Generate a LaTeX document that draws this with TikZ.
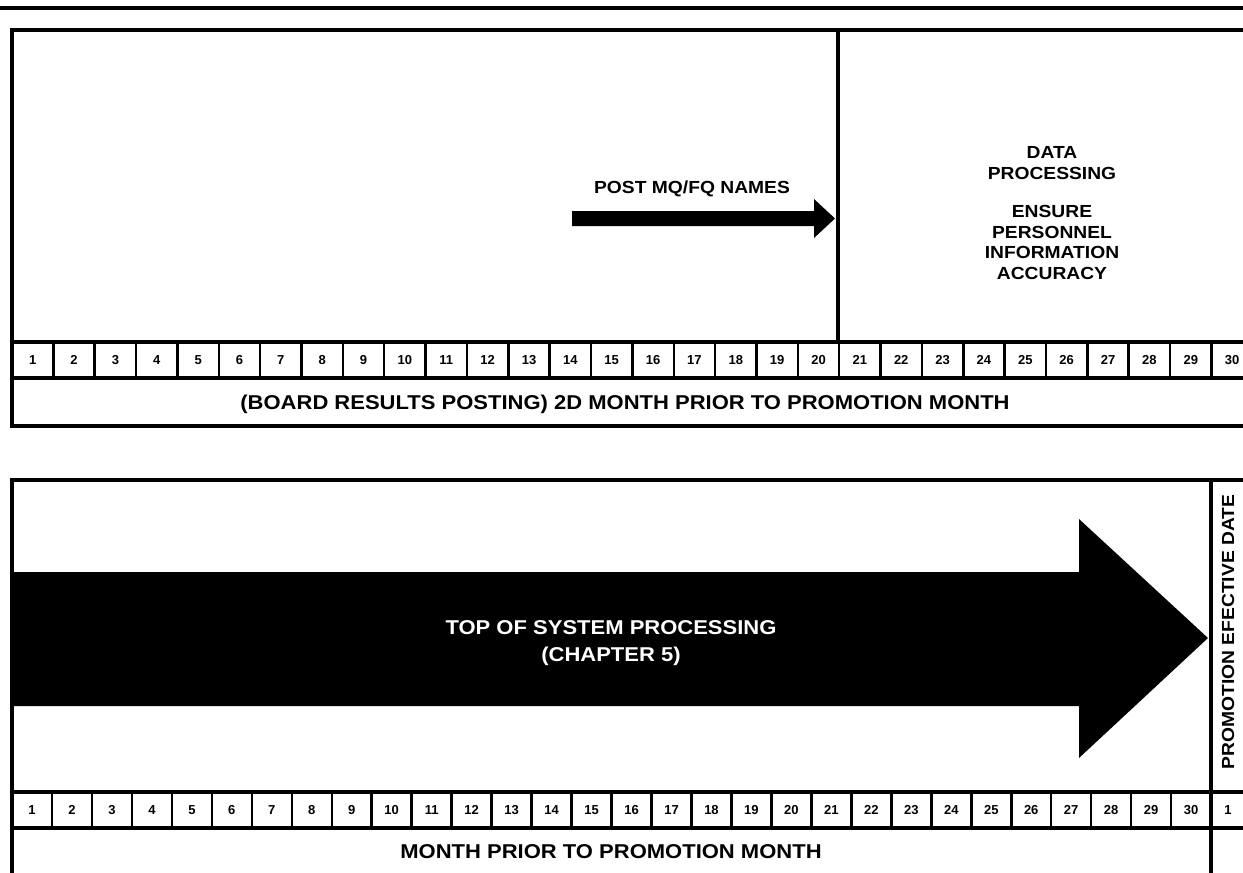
\documentclass[tikz,border=0pt]{standalone}
\usepackage{fontspec}
\setmainfont{Liberation Sans}
\newfontfamily\widefont[FakeStretch=1.1]{Liberation Sans}
\tikzset{
  frame/.style = {line width=4pt},
  cellline/.style = {line width=2.5pt},
  daylabel/.style = {anchor=base, font=\bfseries\fontsize{13}{13}\selectfont},
  boxlabel/.style = {font=\widefont\bfseries\fontsize{17.5}{20.5}\selectfont, align=center},
  rowlabel/.style = {font=\widefont\bfseries\fontsize{20}{24}\selectfont, align=center},
}
\begin{document}
\begin{tikzpicture}[x=1pt,y=-1pt]
    \useasboundingbox (0,0) rectangle (1243,873);
    \clip (0,0) rectangle (1243,873);
    \draw[frame] (0,8) -- (1243,8);
    % board results panel
    \begin{scope}[style = frame]
        \draw (1260,30) -- (12,30) -- (12,426) -- (1260,426);
        \draw (12,342) -- (1260,342);
        \draw (12,378) -- (1260,378);
        \draw (838,30) -- (838,342);
    \end{scope}
    \foreach \d in {1,...,29}
        \draw[cellline] ({12+41.36*\d},342) -- ({12+41.36*\d},378);
    \foreach \d in {1,...,30}
        \node[daylabel] (top\d) at ({12+41.36*(\d-0.5)},364.5) {\d};
    \fill (572,211) -- (814,211) -- (814,199) -- (835,218.5) -- (814,238) -- (814,226) -- (572,226) -- cycle;
    \node[boxlabel] (post) at (692,189) {POST MQ/FQ NAMES};
    \node[boxlabel] (dataproc) at (1052,213) {DATA\\PROCESSING\\[18pt]ENSURE\\PERSONNEL\\INFORMATION\\ACCURACY};
    \node[rowlabel] (board) at (625,404) {(BOARD RESULTS POSTING) 2D MONTH PRIOR TO PROMOTION MONTH};
    % promotion month panel
    \begin{scope}[style = frame]
        \draw (1260,480) -- (12,480) -- (12,880);
        \draw (12,792) -- (1260,792);
        \draw (12,828) -- (1260,828);
        \draw (1211,480) -- (1211,880);
    \end{scope}
    \foreach \d in {1,...,29}
        \draw[cellline] ({12+39.97*\d},792) -- ({12+39.97*\d},828);
    \foreach \d in {1,...,30}
        \node[daylabel] (bot\d) at ({12+39.97*(\d-0.5)},814.5) {\d};
    \node[daylabel] (effday) at (1228,814.5) {1};
    \fill (12,572) -- (1079,572) -- (1079,519) -- (1208,638) -- (1079,758) -- (1079,706) -- (12,706) -- cycle;
    \node[rowlabel, text=white] (tops) at (611,643) {TOP OF SYSTEM PROCESSING\\[3pt](CHAPTER 5)};
    \node[boxlabel, rotate=90] (effdate) at (1228,632) {PROMOTION EFECTIVE DATE};
    \node[rowlabel] (month) at (611,852) {MONTH PRIOR TO PROMOTION MONTH};
\end{tikzpicture}
\end{document}
